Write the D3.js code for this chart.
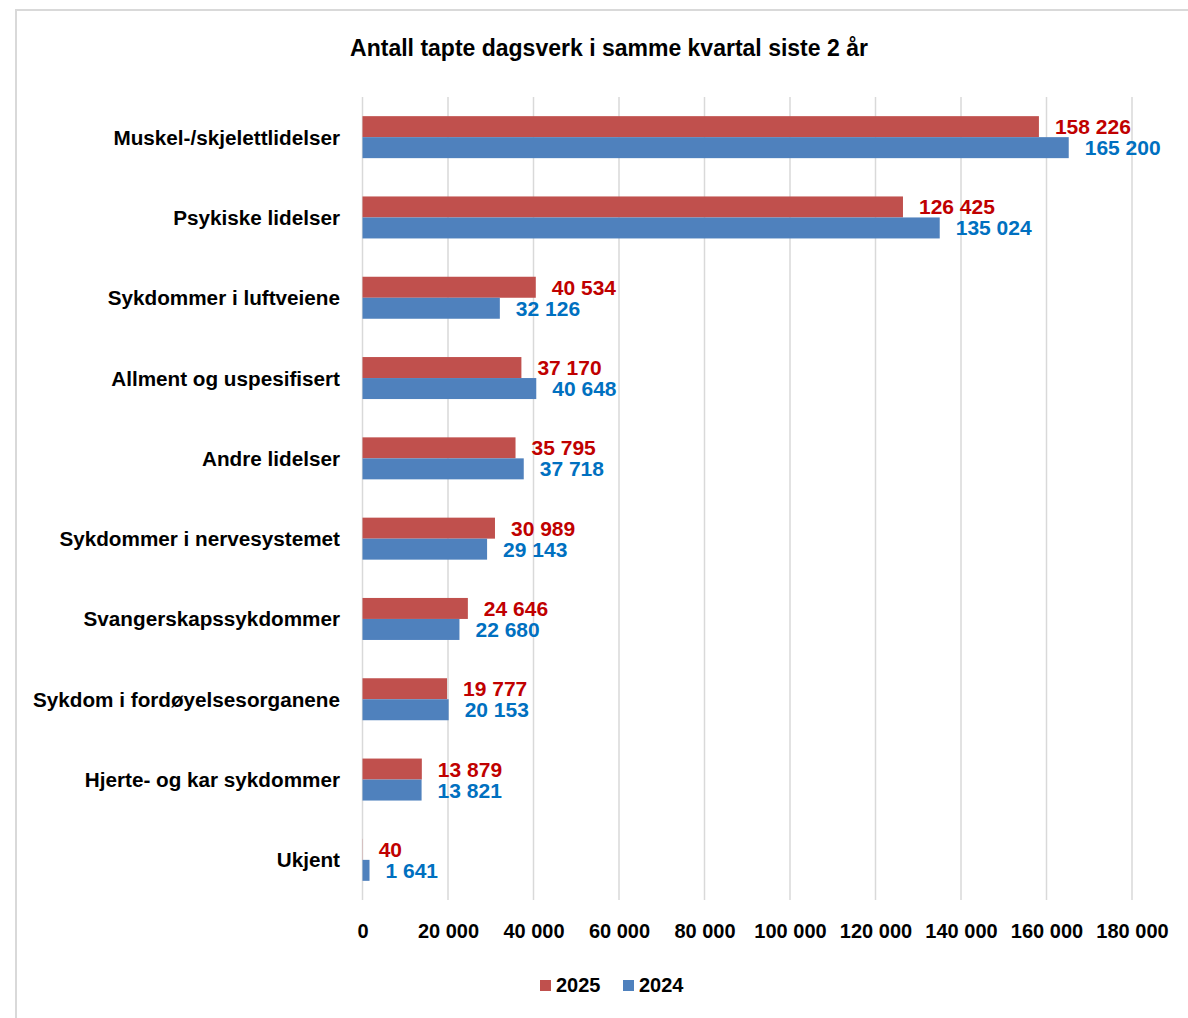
<!DOCTYPE html>
<html>
<head>
<meta charset="utf-8">
<script src="https://cdn.jsdelivr.net/npm/d3@7"></script>
<style>
  body { margin: 0; background: #fff; }
  text { font-family: "Liberation Sans", Arial, sans-serif; font-weight: bold; }
</style>
</head>
<body>
<div id="chart"></div>
<script>
// kategorier og verdier lest av figuren
const categories = [
    "Muskel-/skjelettlidelser",
    "Psykiske lidelser",
    "Sykdommer i luftveiene",
    "Allment og uspesifisert",
    "Andre lidelser",
    "Sykdommer i nervesystemet",
    "Svangerskapssykdommer",
    "Sykdom i fordøyelsesorganene",
    "Hjerte- og kar sykdommer",
    "Ukjent"
];
const values2025 = [158226, 126425, 40534, 37170, 35795, 30989, 24646, 19777, 13879, 40];
const values2024 = [165200, 135024, 32126, 40648, 37718, 29143, 22680, 20153, 13821, 1641];
const seriesNames = ["2025", "2024"];
const xTicks = [0, 20000, 40000, 60000, 80000, 100000, 120000, 140000, 160000, 180000];
const title = "Antall tapte dagsverk i samme kvartal siste 2 år";

const barColor = { "2025": "#C0504D", "2024": "#4F81BD" };
const labelColor = { "2025": "#C00000", "2024": "#0070C0" };

const width = 1188, height = 1018;
const plot = { left: 362.5, right: 1132, top: 97, bottom: 900 };

const nb = d3.formatLocale({ decimal: ",", thousands: "\u00a0", grouping: [3], currency: ["", " kr"] });
const fmt = nb.format(",d");

const data = categories.map((c, i) => ({
    kategori: c,
    "2025": values2025[i],
    "2024": values2024[i]
}));

const svg = d3.select("#chart")
    .append("svg")
    .attr("width", width)
    .attr("height", height);

// ramme (går ut over kanten til høyre og nederst)
svg.append("rect")
    .attr("x", 16)
    .attr("y", 10)
    .attr("width", 1300)
    .attr("height", 1100)
    .attr("fill", "none")
    .attr("stroke", "#d9d9d9")
    .attr("stroke-width", 2);

svg.append("text")
    .attr("x", 609)
    .attr("y", 48)
    .attr("text-anchor", "middle")
    .attr("dominant-baseline", "central")
    .style("font-size", "23px")
    .attr("fill", "#000")
    .text(title);

const x = d3.scaleLinear()
    .domain([0, 180000])
    .range([plot.left, plot.right]);

const y = d3.scaleBand()
    .domain(categories)
    .range([plot.top, plot.bottom])
    .paddingInner(0.477)
    .paddingOuter(0.2385);

const ySub = d3.scaleBand()
    .domain(seriesNames)
    .range([0, y.bandwidth()]);

// rutenett
svg.append("g")
    .selectAll("line")
    .data(xTicks)
    .enter()
    .append("line")
    .attr("x1", d => x(d))
    .attr("x2", d => x(d))
    .attr("y1", plot.top)
    .attr("y2", plot.bottom)
    .attr("stroke", "#d9d9d9")
    .attr("stroke-width", 1.5);

// akse-etiketter
const xAxis = svg.append("g")
    .attr("transform", `translate(0,${plot.bottom})`)
    .call(d3.axisBottom(x).tickValues(xTicks).tickFormat(fmt).tickSize(0).tickPadding(24));
xAxis.select(".domain").remove();
xAxis.selectAll("text")
    .attr("fill", "#000")
    .style("font-size", "20px")
    .style("font-family", "'Liberation Sans', Arial, sans-serif")
    .style("font-weight", "bold");

// kategorinavn
svg.append("g")
    .selectAll("text")
    .data(categories)
    .enter()
    .append("text")
    .attr("x", 340)
    .attr("y", d => y(d) + y.bandwidth() / 2)
    .attr("text-anchor", "end")
    .attr("dominant-baseline", "central")
    .style("font-size", "20.7px")
    .attr("fill", "#000")
    .text(d => d);

const groups = svg.append("g")
    .selectAll("g")
    .data(data)
    .enter()
    .append("g")
    .attr("transform", d => `translate(0,${y(d.kategori)})`);

groups.selectAll("rect")
    .data(d => seriesNames.map(s => ({ serie: s, verdi: d[s] })))
    .enter()
    .append("rect")
    .attr("x", x(0))
    .attr("y", d => ySub(d.serie))
    .attr("width", d => x(d.verdi) - x(0))
    .attr("height", ySub.bandwidth())
    .attr("fill", d => barColor[d.serie]);

groups.selectAll("text")
    .data(d => seriesNames.map(s => ({ serie: s, verdi: d[s] })))
    .enter()
    .append("text")
    .attr("x", d => x(d.verdi) + 16)
    .attr("y", d => ySub(d.serie) + ySub.bandwidth() / 2)
    .attr("dominant-baseline", "central")
    .style("font-size", "21px")
    .attr("fill", d => labelColor[d.serie])
    .text(d => fmt(d.verdi));

// forklaring
const legend = svg.append("g")
    .attr("transform", "translate(540,985)");
const legendX = { "2025": 0, "2024": 83 };

legend.selectAll("rect")
    .data(seriesNames)
    .enter()
    .append("rect")
    .attr("x", d => legendX[d])
    .attr("y", -5)
    .attr("width", 11)
    .attr("height", 11)
    .attr("fill", d => barColor[d]);

legend.selectAll("text")
    .data(seriesNames)
    .enter()
    .append("text")
    .attr("x", d => legendX[d] + 16)
    .attr("y", 0)
    .attr("dominant-baseline", "central")
    .style("font-size", "20px")
    .attr("fill", "#000")
    .text(d => d);
</script>
</body>
</html>
